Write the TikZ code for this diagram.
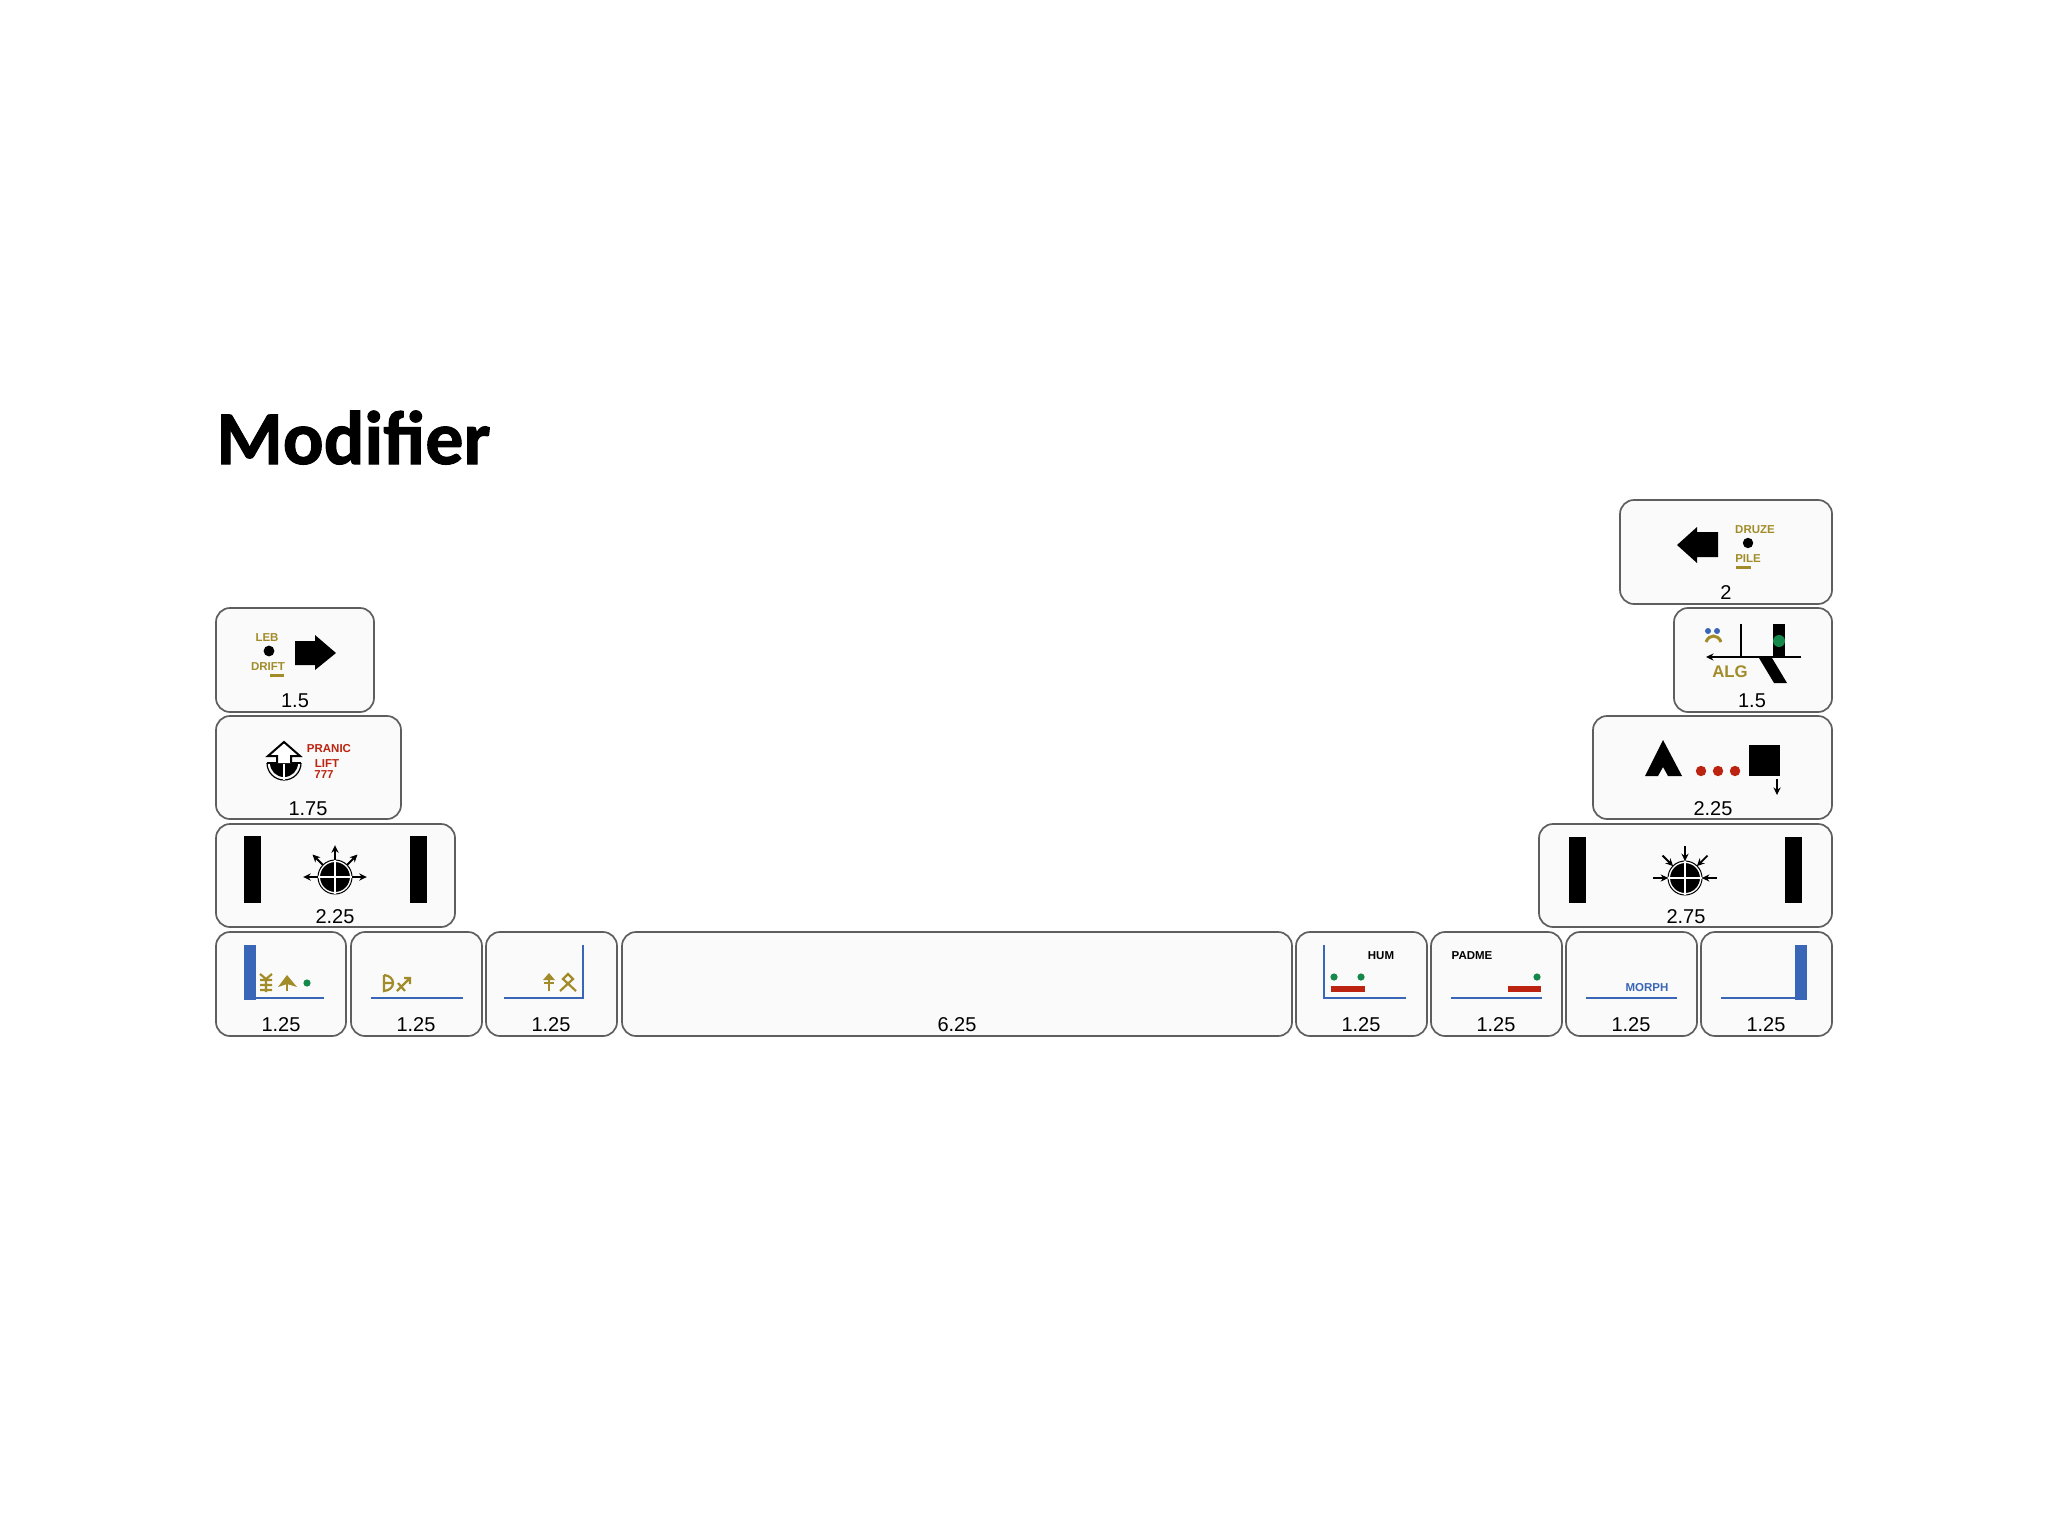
\documentclass[tikz,border=0pt]{standalone}
\usepackage{fontspec}
\setmainfont{Liberation Sans}
\newfontfamily\titlefont[BoldFeatures={FakeBold=1.3}]{Carlito}
\usepackage{xcolor}
\usetikzlibrary{arrows.meta,calc}
\definecolor{keyedge}{HTML}{5E5E5E}
\definecolor{keyfill}{HTML}{FAFAFA}
\definecolor{modolive}{HTML}{A28C2A}
\definecolor{modblue}{HTML}{3A66B8}
\definecolor{modred}{HTML}{BC2310}
\definecolor{modgreen}{HTML}{14894A}

\begin{document}
\begin{tikzpicture}[
    x=0.5pt, y=-0.5pt,
    keycap/.style={rectangle, draw=keyedge, fill=keyfill, line width=0.85pt, rounded corners=7pt, inner sep=0pt, outer sep=0pt},
    sizelabel/.style={anchor=base, font=\fontsize{10}{12}\selectfont, inner sep=0pt},
    tag/.style={anchor=base, font=\fontsize{5.75}{7}\selectfont\bfseries, inner sep=0pt},
    dot/.style={circle, fill=#1, inner sep=0pt, minimum size=3.6pt},
    bar/.style={fill=black, draw=none},
    rule/.style={draw=modblue, line width=1.4pt},
    glyph/.style={draw=modolive, line width=1.1pt},
    disc/.style={circle, fill=black, draw=white, line width=0.6pt, inner sep=0pt, minimum size=15.6pt, outer sep=0.6pt},
    arr/.style={-{Stealth[length=3.8pt,width=3.6pt]}, line width=0.9pt}
]
\useasboundingbox (0,0) rectangle (2048,1536);
\fill[white] (0,0) rectangle (2048,1536);

\node[anchor=base west, inner sep=0pt, font=\fontsize{38}{40}\titlefont\bfseries] (title) at (216,464) {Modifier};

% left stack
\node[keycap, minimum width=79pt, minimum height=52pt] (lebkey) at (295,660) {};
\node[keycap, minimum width=92.5pt, minimum height=51.5pt] (pranickey) at (308.5,767.5) {};
\node[keycap, minimum width=119.5pt, minimum height=51.5pt] (lbigkey) at (335.5,875.5) {};

% bottom row
\node[keycap, minimum width=65pt, minimum height=52pt] (bot1) at (281,984) {};
\node[keycap, minimum width=65.5pt, minimum height=52pt] (bot2) at (416.5,984) {};
\node[keycap, minimum width=65.5pt, minimum height=52pt] (bot3) at (551.5,984) {};
\node[keycap, minimum width=335pt, minimum height=52pt] (spacekey) at (957,984) {};
\node[keycap, minimum width=65.5pt, minimum height=52pt] (humkey) at (1361.5,984) {};
\node[keycap, minimum width=65.5pt, minimum height=52pt] (padmekey) at (1496.5,984) {};
\node[keycap, minimum width=65.5pt, minimum height=52pt] (morphkey) at (1631.5,984) {};
\node[keycap, minimum width=65.5pt, minimum height=52pt] (bot8) at (1766.5,984) {};

% right stack
\node[keycap, minimum width=106pt, minimum height=52pt] (druzekey) at (1726,552) {};
\node[keycap, minimum width=79pt, minimum height=52pt] (algkey) at (1753,660) {};
\node[keycap, minimum width=119.5pt, minimum height=51.5pt] (shapekey) at (1712.5,767.5) {};
\node[keycap, minimum width=146.5pt, minimum height=51.5pt] (rbigkey) at (1685.5,875.5) {};

% size labels
\node[sizelabel] at (295,707) {1.5};
\node[sizelabel] at (308,815) {1.75};
\node[sizelabel] at (335,923) {2.25};
\foreach \cx in {281,416,551,1361,1496,1631,1766}
  \node[sizelabel] at (\cx,1031) {1.25};
\node[sizelabel] at (957,1031) {6.25};
\node[sizelabel] at (1726,599) {2};
\node[sizelabel] at (1752,707) {1.5};
\node[sizelabel] at (1713,815) {2.25};
\node[sizelabel] at (1686,923) {2.75};

% LEB DRIFT
\node[tag, modolive] (leb) at (267,641) {LEB};
\node[dot=black, minimum size=5.4pt] (lebdot) at (269,651) {};
\node[tag, modolive] (drift) at (268,670) {DRIFT};
\fill[modolive] (270,673.5) rectangle (284,676.5);
\fill[black] (295,641) -- (315,641) -- (315,635) -- (336,653) -- (315,670) -- (315,665) -- (295,665) -- cycle;

% PRANIC
\draw[black, line width=0.6pt] (267,763) arc[start angle=180, end angle=0, radius=17];
\fill[black] (270,763) arc[start angle=180, end angle=0, radius=14] -- cycle;
\fill[black] (267,762) rectangle (301,764);
\draw[black, fill=white, line width=1pt] (277,763) -- (277,756) -- (268,756) -- (284,742) -- (300,756) -- (291,756) -- (291,763);
\draw[white, line width=0.7pt] (284,764) -- (284,780);
\node[tag, modred] (pranic) at (329,752) {PRANIC};
\node[tag, modred] (lift) at (327,767) {LIFT};
\node[tag, modred] (sevens) at (324,778) {777};

% outward compass
\fill[bar] (244,836) rectangle (261,903);
\fill[bar] (410,836) rectangle (427,903);
\node[disc] (compassout) at (335,877) {};
\draw[black, line width=0.5pt] (compassout) circle[radius=8.5pt];
\draw[white, line width=0.7pt] (compassout.north) -- (compassout.south);
\draw[white, line width=0.7pt] (compassout.west) -- (compassout.east);
\foreach \a in {0,45,90,135,180}
  \draw[arr] (compassout.\a) -- ++(\a:7.5pt);

% first bottom key
\fill[modblue] (244,945) rectangle (256,1000);
\draw[rule] (256,998) -- (324,998);
\draw[glyph] (266,979) -- (266,992) (260,974) -- (266,979) -- (272,974) (260,980) -- (272,980) (260,985) -- (272,985) (260,990) -- (272,990);
\draw[glyph] (287,980) -- (287,991);
\fill[modolive] (278,987) -- (287,975) -- (297,987) -- (287,984) -- cycle;
\node[dot=modgreen] (bot1dot) at (307,983) {};

% second bottom key
\draw[rule] (371,998) -- (463,998);
\draw[glyph] (384,975) -- (384,991) .. controls (396,990) and (396,976) .. (384,975) (384,983) -- (393,983);
\draw[glyph] (397,991) -- (410,978) (404,978) -- (410,978) -- (410,984) (398,983) -- (405,991);

% third bottom key
\draw[rule] (504,998) -- (583,998) -- (583,945);
\draw[glyph] (549,976) -- (549,991) (544,983) -- (554,983);
\fill[modolive] (543,980) -- (549,973) -- (555,980) -- cycle;
\draw[glyph] (560,991) -- (573,979) -- (568,974) -- (563,979) -- (576,991);

% HUM
\draw[rule] (1324,945) -- (1324,998) -- (1406,998);
\fill[modred] (1331,986) rectangle (1365,992);
\node[dot=modgreen] (humdotl) at (1334,977) {};
\node[dot=modgreen] (humdotr) at (1361,977) {};
\node[tag, black] (hum) at (1381,959) {HUM};

% PADME
\draw[rule] (1451,998) -- (1542,998);
\fill[modred] (1508,986) rectangle (1541,992);
\node[dot=modgreen] (padmedot) at (1537,977) {};
\node[tag, black] (padme) at (1472,959) {PADME};

% MORPH
\draw[rule] (1586,998) -- (1677,998);
\node[tag, modblue] (morph) at (1647,991) {MORPH};

% last bottom key
\draw[rule] (1721,998) -- (1795,998);
\fill[modblue] (1795,945) rectangle (1807,1000);

% DRUZE PILE
\fill[black] (1677,545) -- (1697,527) -- (1697,532) -- (1718,532) -- (1718,557) -- (1697,557) -- (1697,563) -- cycle;
\node[tag, modolive] (druze) at (1755,533) {DRUZE};
\node[dot=black, minimum size=5.2pt] (druzedot) at (1748,543) {};
\node[tag, modolive] (pile) at (1748,562) {PILE};
\fill[modolive] (1736,565.5) rectangle (1751,568.5);

% ALG
\node[dot=modblue, minimum size=3pt] (eyel) at (1708,631) {};
\node[dot=modblue, minimum size=3pt] (eyer) at (1717,631) {};
\draw[modolive, line width=1.5pt] (1706,642) .. controls (1709,634) and (1718,634) .. (1721,642);
\draw[black, line width=0.6pt] (1741,624) -- (1741,657);
\fill[bar] (1773,624) rectangle (1785,657);
\node[dot=modgreen, minimum size=6pt] (algdot) at (1779,641) {};
\coordinate (algright) at (1801,657);
\coordinate (algleft) at (1706,657);
\draw[arr, line width=0.6pt] (algright) -- (algleft);
\fill[black] (1759,658) -- (1772,658) -- (1787,683) -- (1774,683) -- cycle;
\node[tag, modolive, font=\fontsize{8.4}{10}\selectfont\bfseries] (alg) at (1730,677) {ALG};

% shapes
\fill[black] (1663,740) -- (1682,776) -- (1668,776) -- (1663,767) -- (1658,776) -- (1645,776) -- cycle;
\foreach \cx in {1701,1718,1735}
  \fill[modred] (\cx,771) circle[radius=2.6pt];
\fill[bar] (1749,745) rectangle (1780,776);
\coordinate (droptop) at (1777,779);
\coordinate (dropend) at (1777,795);
\draw[arr, line width=0.6pt] (droptop) -- (dropend);

% inward compass
\fill[bar] (1569,837) rectangle (1586,903);
\fill[bar] (1785,837) rectangle (1802,903);
\node[disc] (compassin) at (1685,878) {};
\draw[black, line width=0.5pt] (compassin) circle[radius=8.5pt];
\draw[white, line width=0.7pt] (compassin.north) -- (compassin.south);
\draw[white, line width=0.7pt] (compassin.west) -- (compassin.east);
\foreach \a in {0,45,90,135,180}
  \draw[arr] ($(compassin.\a)+(\a:7.5pt)$) -- (compassin.\a);
\end{tikzpicture}
\end{document}
